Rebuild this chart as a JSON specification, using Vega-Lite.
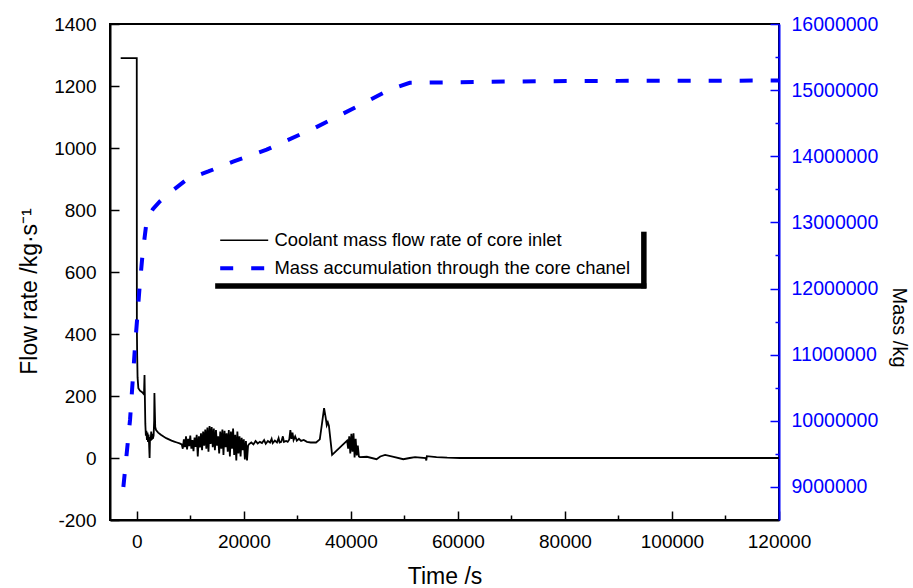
{
  "$schema": "https://vega.github.io/schema/vega-lite/v6.json",
  "width": 669,
  "height": 496,
  "autosize": "none",
  "padding": {"left": 110, "top": 24, "right": 134, "bottom": 68},
  "background": "white",
  "config": {
    "font": "Liberation Sans",
    "view": {"stroke": "black", "strokeWidth": 2},
    "axis": {
      "grid": false,
      "labelFont": "Liberation Sans",
      "titleFont": "Liberation Sans",
      "labelFontSize": 19,
      "titleFontSize": 20,
      "titleFontWeight": "normal",
      "labelColor": "black",
      "titleColor": "black",
      "domainColor": "black",
      "tickColor": "black",
      "domainWidth": 2,
      "tickWidth": 1.5,
      "labelOverlap": false,
      "labelFlush": false,
      "labelBound": false
    },
    "legend": {
      "orient": "none",
      "legendX": 110,
      "legendY": 207,
      "padding": 0,
      "labelFont": "Liberation Sans",
      "labelFontSize": 18.4,
      "labelColor": "black",
      "labelLimit": 500,
      "symbolType": "stroke",
      "symbolSize": 2304,
      "symbolOffset": 15,
      "labelOffset": 21,
      "rowPadding": 9
    }
  },
  "datasets": {
    "flow": [
      {"t": -3000, "v": 1290}, {"t": 0, "v": 1290}, {"t": 20, "v": 420}, {"t": 80, "v": 330}, {"t": 150, "v": 260},
      {"t": 300, "v": 225}, {"t": 600, "v": 217}, {"t": 1000, "v": 212}, {"t": 1350, "v": 205}, {"t": 1450, "v": 268},
      {"t": 1520, "v": 190}, {"t": 1600, "v": 110}, {"t": 1700, "v": 72}, {"t": 1800, "v": 88}, {"t": 1900, "v": 58},
      {"t": 2000, "v": 82}, {"t": 2100, "v": 52}, {"t": 2200, "v": 76}, {"t": 2300, "v": 45}, {"t": 2400, "v": 0},
      {"t": 2480, "v": 68}, {"t": 2600, "v": 55}, {"t": 2700, "v": 85}, {"t": 2800, "v": 58}, {"t": 2900, "v": 78},
      {"t": 3000, "v": 62}, {"t": 3150, "v": 72}, {"t": 3250, "v": 120}, {"t": 3300, "v": 210}, {"t": 3380, "v": 150},
      {"t": 3450, "v": 100}, {"t": 3600, "v": 90}, {"t": 4000, "v": 82}, {"t": 4500, "v": 75}, {"t": 5000, "v": 69},
      {"t": 5500, "v": 64}, {"t": 6000, "v": 60}, {"t": 6500, "v": 56}, {"t": 7000, "v": 53}, {"t": 7500, "v": 50},
      {"t": 8000, "v": 47}, {"t": 8400, "v": 44},
      {"t": 8600, "v": 30}, {"t": 8800, "v": 60}, {"t": 9000, "v": 35}, {"t": 9200, "v": 70}, {"t": 9400, "v": 28},
      {"t": 9600, "v": 62}, {"t": 9800, "v": 38}, {"t": 10000, "v": 72}, {"t": 10200, "v": 30}, {"t": 10400, "v": 58},
      {"t": 10600, "v": 22}, {"t": 10800, "v": 66}, {"t": 11000, "v": 36}, {"t": 11200, "v": 75}, {"t": 11400, "v": 5},
      {"t": 11600, "v": 70}, {"t": 11800, "v": 34}, {"t": 12000, "v": 80}, {"t": 12200, "v": 25}, {"t": 12400, "v": 85},
      {"t": 12600, "v": 40}, {"t": 12800, "v": 92}, {"t": 13000, "v": 30}, {"t": 13200, "v": 98}, {"t": 13400, "v": 20},
      {"t": 13600, "v": 103}, {"t": 13800, "v": 45}, {"t": 14000, "v": 100}, {"t": 14200, "v": 35}, {"t": 14400, "v": 95},
      {"t": 14600, "v": 25}, {"t": 14800, "v": 90}, {"t": 15000, "v": 40}, {"t": 15200, "v": 70}, {"t": 15400, "v": 15},
      {"t": 15600, "v": 85}, {"t": 15800, "v": 30}, {"t": 16000, "v": 92}, {"t": 16200, "v": 10}, {"t": 16400, "v": 88},
      {"t": 16600, "v": 35}, {"t": 16800, "v": 80}, {"t": 17000, "v": 20}, {"t": 17200, "v": 90}, {"t": 17400, "v": 5},
      {"t": 17600, "v": 85}, {"t": 17800, "v": 30}, {"t": 18000, "v": 95}, {"t": 18200, "v": 10}, {"t": 18400, "v": 75},
      {"t": 18600, "v": -8}, {"t": 18800, "v": 85}, {"t": 19000, "v": 15}, {"t": 19200, "v": 70}, {"t": 19400, "v": 5},
      {"t": 19600, "v": 65}, {"t": 19800, "v": 25}, {"t": 20000, "v": 60}, {"t": 20200, "v": -5}, {"t": 20400, "v": 55},
      {"t": 20600, "v": -8}, {"t": 20800, "v": 40}, {"t": 21000, "v": 45},
      {"t": 21400, "v": 50}, {"t": 21800, "v": 44}, {"t": 22200, "v": 55}, {"t": 22600, "v": 47}, {"t": 23000, "v": 52},
      {"t": 23400, "v": 48}, {"t": 23800, "v": 58}, {"t": 24100, "v": 46}, {"t": 24500, "v": 55}, {"t": 24900, "v": 50},
      {"t": 25200, "v": 62}, {"t": 25400, "v": 48}, {"t": 25800, "v": 56}, {"t": 26200, "v": 50}, {"t": 26500, "v": 64},
      {"t": 26700, "v": 50}, {"t": 27000, "v": 52}, {"t": 27300, "v": 70}, {"t": 27500, "v": 52}, {"t": 27900, "v": 55},
      {"t": 28200, "v": 52}, {"t": 28500, "v": 60}, {"t": 28700, "v": 90}, {"t": 28900, "v": 62}, {"t": 29100, "v": 82},
      {"t": 29300, "v": 58}, {"t": 29600, "v": 70}, {"t": 29900, "v": 56}, {"t": 30300, "v": 62}, {"t": 30700, "v": 55},
      {"t": 31200, "v": 58}, {"t": 31800, "v": 52}, {"t": 32500, "v": 50}, {"t": 33500, "v": 50}, {"t": 34200, "v": 60},
      {"t": 34600, "v": 110}, {"t": 35000, "v": 161}, {"t": 35300, "v": 130}, {"t": 35500, "v": 106}, {"t": 35700, "v": 115},
      {"t": 35900, "v": 104}, {"t": 36500, "v": 10}, {"t": 39300, "v": 56}, {"t": 39500, "v": 30}, {"t": 39700, "v": 70},
      {"t": 39900, "v": 15}, {"t": 40100, "v": 78}, {"t": 40300, "v": 20}, {"t": 40500, "v": 80}, {"t": 40700, "v": 2},
      {"t": 40900, "v": 62}, {"t": 41100, "v": 8}, {"t": 41300, "v": 40}, {"t": 41500, "v": 5}, {"t": 41700, "v": 3},
      {"t": 43000, "v": 4}, {"t": 44800, "v": -4}, {"t": 45500, "v": 5}, {"t": 46400, "v": 10}, {"t": 48000, "v": 4},
      {"t": 49800, "v": -4}, {"t": 51000, "v": 0}, {"t": 52000, "v": 3}, {"t": 54000, "v": 0}, {"t": 54100, "v": -8},
      {"t": 54200, "v": 6}, {"t": 56000, "v": 3}, {"t": 58000, "v": 1}, {"t": 60400, "v": 0}, {"t": 120000, "v": 0}
    ],
    "mass": [
      {"t": -2500, "v": 9000000}, {"t": -1250, "v": 10020000}, {"t": -320, "v": 11130000}, {"t": 490, "v": 11980000},
      {"t": 1050, "v": 12490000}, {"t": 1870, "v": 13040000}, {"t": 3000, "v": 13200000}, {"t": 4350, "v": 13320000},
      {"t": 6500, "v": 13470000}, {"t": 9340, "v": 13650000}, {"t": 13370, "v": 13770000}, {"t": 18000, "v": 13920000},
      {"t": 24270, "v": 14100000}, {"t": 33290, "v": 14430000}, {"t": 41380, "v": 14760000}, {"t": 47300, "v": 15010000},
      {"t": 51000, "v": 15110000}, {"t": 60000, "v": 15120000}, {"t": 74700, "v": 15135000}, {"t": 90000, "v": 15140000},
      {"t": 120000, "v": 15145000}
    ]
  },
  "layer": [
    {
      "layer": [
        {
          "data": {"name": "flow"},
          "mark": {"type": "line", "strokeWidth": 1.8, "strokeJoin": "miter", "clip": true},
          "encoding": {
            "x": {
              "field": "t", "type": "quantitative",
              "scale": {"domain": [-5000, 120000], "nice": false, "zero": false},
              "axis": {
                "title": "Time /s",
                "titleFontSize": 23,
                "values": [0, 10000, 20000, 30000, 40000, 50000, 60000, 70000, 80000, 90000, 100000, 110000, 120000],
                "labelExpr": "datum.value % 20000 == 0 ? '' + datum.value : ''",
                "tickSize": {"condition": {"test": "datum.value % 20000 != 0", "value": -5}, "value": -9},
                "labelPadding": 21,
                "titlePadding": 10
              }
            },
            "y": {
              "field": "v", "type": "quantitative",
              "scale": {"domain": [-200, 1400], "nice": false, "zero": false},
              "axis": {
                "title": "Flow rate /kg·s⁻¹",
                "titleFontSize": 23,
                "values": [-200, -100, 0, 100, 200, 300, 400, 500, 600, 700, 800, 900, 1000, 1100, 1200, 1300, 1400],
                "labelExpr": "datum.value % 200 == 0 ? '' + datum.value : ''",
                "tickSize": {"condition": {"test": "datum.value % 200 != 0", "value": -5}, "value": -9},
                "labelPadding": 23,
                "titlePadding": 12,
                "titleY": 267
              }
            },
            "color": {
              "datum": "Coolant mass flow rate of core inlet", "type": "nominal",
              "scale": {"domain": ["Coolant mass flow rate of core inlet", "Mass accumulation through the core chanel"], "range": ["black", "#0000ff"]},
              "legend": {
                "title": null,
                "encode": {
                  "symbols": {
                    "update": {
                      "strokeDash": {"signal": "datum.value === 'Mass accumulation through the core chanel' ? [13, 18] : [1, 0]"},
                      "strokeWidth": {"signal": "datum.value === 'Mass accumulation through the core chanel' ? 4 : 1.6"}
                    }
                  }
                }
              }
            }
          }
        },
        {
          "data": {"values": [{}]},
          "mark": {"type": "rule", "color": "black", "strokeWidth": 5.5, "strokeCap": "butt"},
          "encoding": {
            "x": {"datum": 14650, "type": "quantitative"},
            "x2": {"datum": 95220},
            "y": {"datum": 555, "type": "quantitative"}
          }
        },
        {
          "data": {"values": [{}]},
          "mark": {"type": "rule", "color": "black", "strokeWidth": 5.5, "strokeCap": "butt"},
          "encoding": {
            "x": {"datum": 94750, "type": "quantitative"},
            "y": {"datum": 547, "type": "quantitative"},
            "y2": {"datum": 730}
          }
        }
      ]
    },
    {
      "data": {"name": "mass"},
      "mark": {"type": "line", "strokeWidth": 4, "strokeDash": [13, 18], "clip": true},
      "encoding": {
        "x": {"field": "t", "type": "quantitative"},
        "y": {
          "field": "v", "type": "quantitative",
          "scale": {"domain": [8500000, 16000000], "nice": false, "zero": false},
          "axis": {
            "orient": "right",
            "title": "Mass /kg",
            "labelFontSize": 19.5,
            "values": [9000000, 9500000, 10000000, 10500000, 11000000, 11500000, 12000000, 12500000, 13000000, 13500000, 14000000, 14500000, 15000000, 15500000, 16000000],
            "labelExpr": "datum.value % 1000000 == 0 ? '' + datum.value : ''",
            "tickSize": {"condition": {"test": "datum.value % 1000000 != 0", "value": -4}, "value": -9},
            "labelColor": "#0000ff",
            "domainColor": "#0000ff",
            "tickColor": "#0000ff",
            "labelPadding": 21,
            "titlePadding": 11,
            "titleY": 303
          }
        },
        "color": {"datum": "Mass accumulation through the core chanel", "type": "nominal"}
      }
    }
  ],
  "resolve": {"scale": {"y": "independent"}}
}
